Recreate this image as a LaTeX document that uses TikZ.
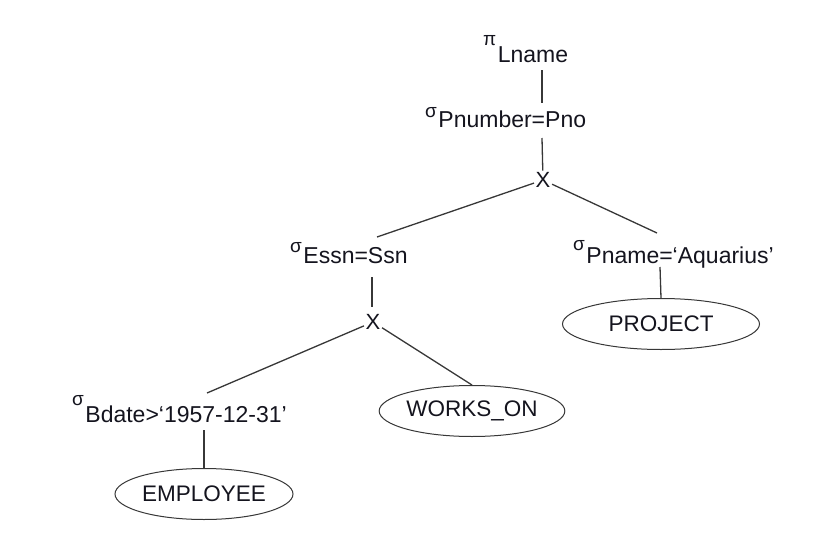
\documentclass[tikz,border=0pt]{standalone}
\usepackage{fontspec}
\setmainfont{Liberation Sans}
\usetikzlibrary{shapes.geometric}
\definecolor{inkc}{RGB}{20,20,30}
\definecolor{linec}{RGB}{55,55,55}
\newcommand\opmark[2]{\raisebox{#1}{\fontsize{19}{19}\selectfont #2}\hspace{1.5pt}}
\begin{document}
\begin{tikzpicture}[x=1pt,y=-1pt,
  lbl/.style={anchor=base west, inner sep=0pt, font=\fontsize{23}{26}\selectfont, text=inkc},
  cross/.style={inner sep=1.5pt, font=\fontsize{22}{26}\selectfont, text=inkc},
  rel/.style={ellipse, draw=linec, line width=1pt, inner sep=0pt, minimum height=51pt, font=\fontsize{22.5}{26}\selectfont, text=inkc},
  conn/.style={draw=linec, line width=1.3pt}]
\useasboundingbox (0,0) rectangle (817,554);
% operator labels
\node[lbl] (proj) at (483,62) {\opmark{17pt}{π}Lname};
\node[lbl] (selpn) at (425,127) {\opmark{10pt}{σ}Pnumber=Pno};
\node[cross] (x1) at (543,180) {X};
\node[lbl] (selessn) at (290,263) {\opmark{11pt}{σ}Essn=Ssn};
\node[lbl] (selpname) at (573,263) {\opmark{13pt}{σ}Pname=‘Aquarius’};
\node[cross] (x2) at (373,322) {X};
\node[lbl] (selbdate) at (72,422) {\opmark{17pt}{σ}Bdate>‘1957-12-31’};
% relations
\node[rel, minimum width=197pt] (project) at (661,324) {PROJECT};
\node[rel, minimum width=179pt] (workson) at (472,411) {WORKS\_ON};
\node[rel, minimum width=178pt] (employee) at (204,494) {EMPLOYEE};
% connector end points
\coordinate (a1) at (542,70);
\coordinate (a2) at (542,103);
\coordinate (b1) at (542,138);
\coordinate (c1) at (377,237);
\coordinate (c2) at (657,233);
\coordinate (d1) at (372,277);
\coordinate (d2) at (372,307);
\coordinate (e1) at (660,267);
\coordinate (f1) at (207,393);
\coordinate (g1) at (204,430);
% connectors
\draw[conn] (a1) -- (a2);
\draw[conn] (b1) -- (x1);
\draw[conn] (x1) -- (c1);
\draw[conn] (x1) -- (c2);
\draw[conn] (d1) -- (d2);
\draw[conn] (e1) -- (project.north);
\draw[conn] (x2) -- (f1);
\draw[conn] (x2) -- (workson.north);
\draw[conn] (g1) -- (employee);
\end{tikzpicture}
\end{document}
